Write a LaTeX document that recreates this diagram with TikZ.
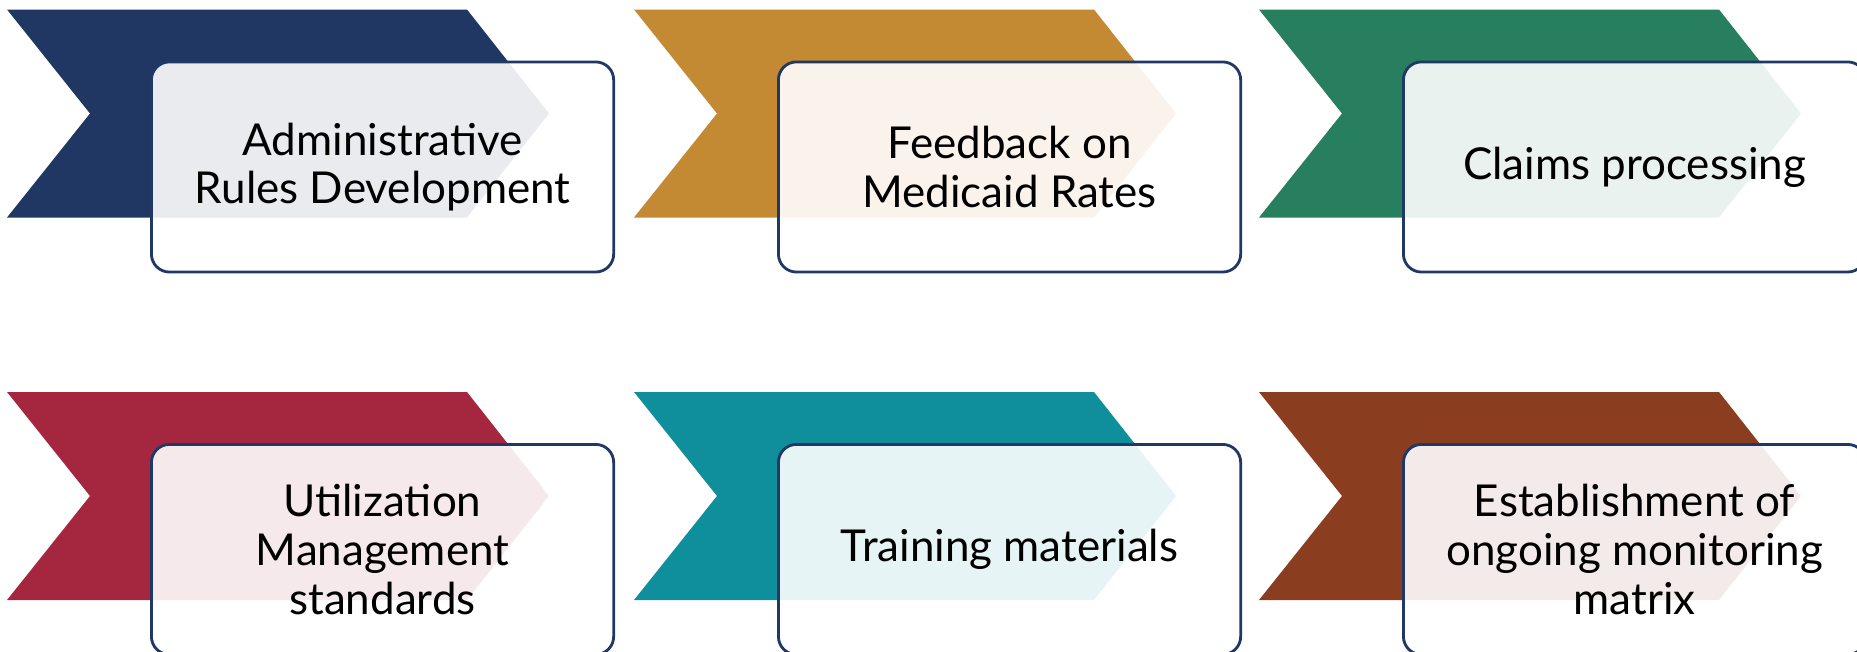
\documentclass[tikz,border=0pt]{standalone}
\usepackage{fontspec}
\setmainfont{Lato}
\definecolor{cNavy}{HTML}{1F3762}
\definecolor{cGold}{HTML}{C38A33}
\definecolor{cGreen}{HTML}{277F5F}
\definecolor{cCrimson}{HTML}{A5273F}
\definecolor{cTeal}{HTML}{0E8F9B}
\definecolor{cBrown}{HTML}{8A3D1F}
\definecolor{cEdge}{HTML}{203864}
\begin{document}
\begin{tikzpicture}[x=0.01cm,y=-0.01cm,
  boxnode/.style={draw=cEdge, line width=0.8pt, fill=white, fill opacity=0.9, text opacity=1,
    rounded corners=0.18cm, minimum width=4.62cm, minimum height=2.10cm, align=center,
    font=\fontsize{12.5}{13.8}\selectfont, anchor=north west, inner sep=0pt}]
\useasboundingbox (0,0) rectangle (1857,651);
\clip (0,0) rectangle (1857,651);
\foreach \cx/\cy/\col/\nm/\txt in {
  7/9.5/cNavy/b1/{Administrative\\Rules Development},
  634/9.5/cGold/b2/{Feedback on\\Medicaid Rates},
  1259/9.5/cGreen/b3/{Claims processing},
  7/392/cCrimson/b4/{Utilization\\Management\\standards},
  634/392/cTeal/b5/{Training materials},
  1259/392/cBrown/b6/{Establishment of\\ongoing monitoring\\matrix}}{
  \fill[\col] (\cx,\cy) -- ++(460,0) -- ++(82,104) -- ++(-82,104) -- ++(-460,0) -- ++(83,-104) -- cycle;
  \node[boxnode] (\nm) at (\cx+143,\cy+51) {\txt};
}
\end{tikzpicture}
\end{document}
